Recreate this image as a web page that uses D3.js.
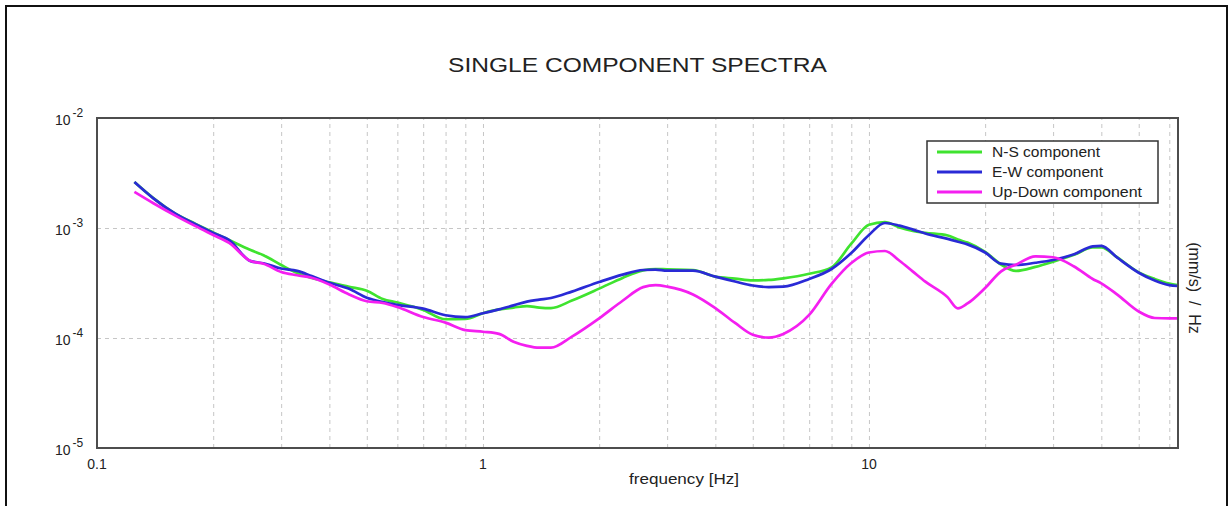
<!DOCTYPE html>
<html><head>
<meta charset="utf-8">
<script src="https://cdn.jsdelivr.net/npm/d3@7"></script>
<style>
  body { margin:0; background:#fff; }
  text { font-family: "Liberation Sans", Arial, sans-serif; fill:#222; }
  .gridlines line { stroke:#c6c6c6; stroke-dasharray:4,4; }
  .gridlines .domain { stroke:none; }
</style>
</head><body>
<svg id="chart" width="1231" height="506"></svg>
<script>

// frequencies in Hz, shared by the three spectra
const freq = [0.125,0.14,0.16,0.18,0.2,0.22,0.25,0.27,0.3,0.33,0.36,0.4,0.45,0.5,0.55,0.6,0.7,0.8,0.9,
  1.0,1.1,1.2,1.3,1.4,1.5,1.7,2.0,2.3,2.6,2.8,3.0,3.5,4.0,4.5,5.0,5.5,6.0,7.0,8.0,9.0,
  10,11,12,13,14,16,17,18,20,22,24,27,30,34,38,40,44,50,55,60,63];

const nsComp = [2.62e-3,1.87e-3,1.34e-3,1.09e-3,9.12e-4,7.78e-4,6.31e-4,5.66e-4,4.61e-4,3.89e-4,3.51e-4,3.20e-4,2.92e-4,2.69e-4,2.26e-4,2.10e-4,1.80e-4,1.48e-4,1.49e-4,
  1.68e-4,1.82e-4,1.89e-4,1.95e-4,1.89e-4,1.87e-4,2.19e-4,2.81e-4,3.52e-4,4.12e-4,4.24e-4,4.21e-4,4.15e-4,3.61e-4,3.47e-4,3.34e-4,3.37e-4,3.49e-4,3.84e-4,4.38e-4,7.2e-4,
  1.07e-3,1.13e-3,1.01e-3,9.39e-4,9.03e-4,8.55e-4,7.84e-4,7.38e-4,6.06e-4,4.66e-4,4.07e-4,4.43e-4,4.94e-4,5.72e-4,6.65e-4,6.68e-4,5.40e-4,3.95e-4,3.44e-4,3.12e-4,3.03e-4];

const ewComp = [2.62e-3,1.86e-3,1.34e-3,1.08e-3,9.0e-4,7.74e-4,5.0e-4,4.78e-4,4.28e-4,4.08e-4,3.66e-4,3.18e-4,2.80e-4,2.32e-4,2.12e-4,2.0e-4,1.85e-4,1.61e-4,1.55e-4,
  1.68e-4,1.82e-4,1.98e-4,2.14e-4,2.23e-4,2.31e-4,2.64e-4,3.23e-4,3.77e-4,4.15e-4,4.18e-4,4.09e-4,4.09e-4,3.61e-4,3.26e-4,3.0e-4,2.90e-4,2.93e-4,3.44e-4,4.24e-4,5.93e-4,
  8.64e-4,1.11e-3,1.05e-3,9.67e-4,8.91e-4,7.96e-4,7.51e-4,7.10e-4,5.99e-4,4.74e-4,4.61e-4,4.83e-4,5.12e-4,5.77e-4,6.82e-4,6.89e-4,5.37e-4,3.92e-4,3.33e-4,3.02e-4,2.97e-4];

const udComp = [2.13e-3,1.68e-3,1.29e-3,1.04e-3,8.65e-4,7.32e-4,5.0e-4,4.73e-4,3.98e-4,3.72e-4,3.53e-4,3.06e-4,2.49e-4,2.16e-4,2.08e-4,1.91e-4,1.55e-4,1.38e-4,1.18e-4,
  1.14e-4,1.09e-4,9.26e-5,8.49e-5,8.16e-5,8.16e-5,1.03e-4,1.51e-4,2.18e-4,2.90e-4,3.02e-4,2.93e-4,2.49e-4,1.87e-4,1.37e-4,1.07e-4,1.01e-4,1.09e-4,1.62e-4,3.1e-4,4.8e-4,
  5.99e-4,6.18e-4,5.04e-4,4.01e-4,3.25e-4,2.34e-4,1.86e-4,2.06e-4,2.85e-4,4.04e-4,4.63e-4,5.53e-4,5.42e-4,4.47e-4,3.44e-4,3.14e-4,2.48e-4,1.74e-4,1.52e-4,1.51e-4,1.51e-4];

const seriesNames = ["N-S component", "E-W component", "Up-Down component"];
const seriesColors = ["#3fe32f", "#2a2ad6", "#f41ff0"];
const xLabelTicks = [0.1, 1, 10];
const yTicks = [1e-2, 1e-3, 1e-4, 1e-5];

let svg = d3.select("svg#chart");
const margins = {top: 118, right: 53, bottom: 58, left: 97};
const chWidth = svg.attr("width") - margins.left - margins.right;
const chHeight = svg.attr("height") - margins.top - margins.bottom;

// outer frame of the picture
svg.append("rect")
   .attr("x", 6).attr("y", 6).attr("width", 1221).attr("height", 520)
   .attr("fill", "none").attr("stroke", "#111").attr("stroke-width", 2);

svg.append("text")
   .attr("x", margins.left + chWidth/2).attr("y", 72)
   .attr("text-anchor", "middle")
   .attr("font-size", 21)
   .attr("textLength", 379).attr("lengthAdjust", "spacingAndGlyphs")
   .text("SINGLE COMPONENT SPECTRA");

let xScale = d3.scaleLog().domain([0.1, 63.2]).range([0, chWidth]);
let yScale = d3.scaleLog().domain([1e-5, 1e-2]).range([chHeight, 0]);

let annotations = svg.append("g");

let bottomGrid = d3.axisBottom(xScale)
                   .tickValues(xScale.ticks())
                   .tickSize(-chHeight)
                   .tickFormat("");
annotations.append("g")
   .attr("class", "x gridlines")
   .attr("transform", `translate(${margins.left},${margins.top + chHeight})`)
   .call(bottomGrid);

let leftGrid = d3.axisLeft(yScale)
                 .tickValues([1e-3, 1e-4])
                 .tickSize(-chWidth)
                 .tickFormat("");
annotations.append("g")
   .attr("class", "y gridlines")
   .attr("transform", `translate(${margins.left},${margins.top})`)
   .call(leftGrid);

let chartArea = svg.append("g")
   .attr("transform", `translate(${margins.left},${margins.top})`);

svg.append("clipPath").attr("id", "plotclip")
   .append("rect").attr("width", chWidth).attr("height", chHeight);

var lineGen = d3.line()
   .curve(d3.curveMonotoneX)
   .x(d => xScale(d[0]))
   .y(d => yScale(d[1]));

const allSeries = [nsComp, ewComp, udComp];
chartArea.append("g").attr("clip-path", "url(#plotclip)")
   .selectAll("path").data(allSeries)
   .join("path")
   .attr("fill", "none")
   .attr("stroke", (d, i) => seriesColors[i])
   .attr("stroke-width", 2.7)
   .attr("stroke-linejoin", "round")
   .attr("d", d => lineGen(d3.zip(freq, d)));

// plot frame
chartArea.append("rect")
   .attr("width", chWidth).attr("height", chHeight)
   .attr("fill", "none").attr("stroke", "#4d4d4d").attr("stroke-width", 2);

// y tick labels as 10 with superscript exponent
let yLab = annotations.selectAll("text.ylab").data(yTicks)
   .join("text")
   .attr("class", "ylab")
   .attr("x", 55)
   .attr("y", d => margins.top + yScale(d) + 7)
   .attr("font-size", 14);
yLab.append("tspan").text("10");
yLab.append("tspan")
   .attr("dx", 2).attr("dy", -8)
   .attr("font-size", 12)
   .text(d => "-" + Math.abs(Math.round(Math.log10(d))));

annotations.selectAll("text.xlab").data(xLabelTicks)
   .join("text")
   .attr("class", "xlab")
   .attr("x", d => margins.left + xScale(d))
   .attr("y", margins.top + chHeight + 21)
   .attr("text-anchor", "middle")
   .attr("font-size", 14)
   .text(d => "" + d);

annotations.append("text")
   .attr("x", 684).attr("y", 484)
   .attr("text-anchor", "middle")
   .attr("font-size", 15)
   .attr("textLength", 110).attr("lengthAdjust", "spacingAndGlyphs")
   .text("frequency [Hz]");

annotations.append("text")
   .attr("transform", "translate(1189,288) rotate(90)")
   .attr("text-anchor", "middle")
   .attr("font-size", 16)
   .style("white-space", "pre")
   .text("(mm/s)  /  Hz");

// legend
let legend = svg.append("g").attr("transform", "translate(927,141)");
legend.append("rect")
   .attr("width", 231).attr("height", 62)
   .attr("fill", "#fff").attr("stroke", "#333").attr("stroke-width", 1.5);
let legendRows = legend.selectAll("g.row").data(seriesNames)
   .join("g").attr("class", "row")
   .attr("transform", (d, i) => `translate(0,${11 + i*20})`);
legendRows.append("line")
   .attr("x1", 10).attr("x2", 55)
   .attr("stroke", (d, i) => seriesColors[i])
   .attr("stroke-width", 3);
legendRows.append("text")
   .attr("x", 65).attr("y", 5)
   .attr("font-size", 14)
   .attr("textLength", (d, i) => [108, 111, 150][i])
   .attr("lengthAdjust", "spacingAndGlyphs")
   .text(d => d);

</script>
</body></html>
